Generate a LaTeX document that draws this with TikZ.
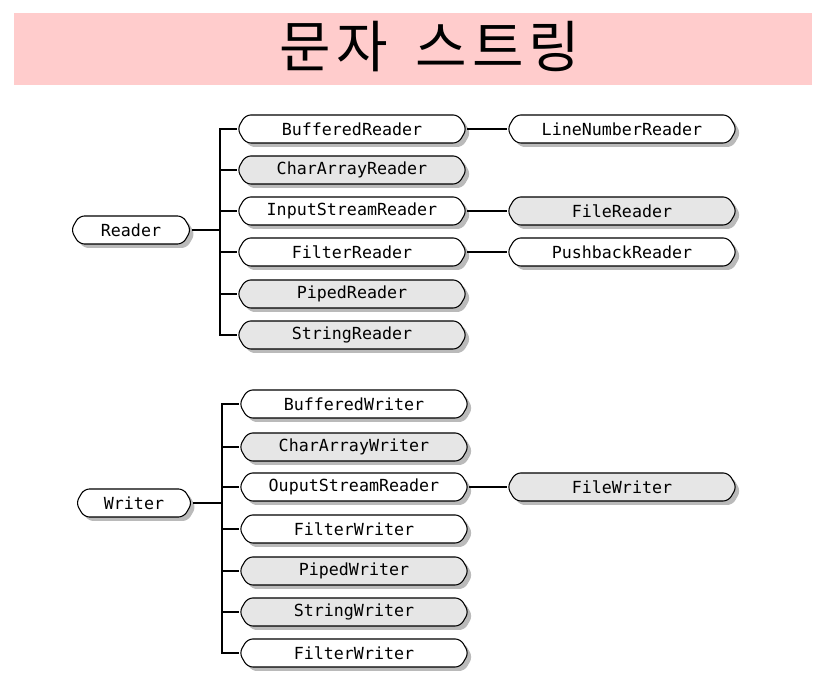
\documentclass[tikz,border=0pt]{standalone}
\usepackage{fontspec}
\setmonofont{DejaVu Sans Mono}
\newfontfamily\cjk[LetterSpace=9]{Noto Sans CJK KR}
\usetikzlibrary{shapes.symbols,shadows}

\definecolor{bannerpink}{RGB}{255,204,204}
\definecolor{boxgray}{RGB}{230,230,230}

\tikzset{
  cls/.style={shape=signal, signal to=west and east, signal pointer angle=120,
    draw, line width=0.8pt, rounded corners=4pt, fill=white,
    minimum width=172pt, minimum height=21pt, inner sep=0pt,
    font=\ttfamily\fontsize{12.5}{14}\selectfont,
    drop shadow={shadow xshift=3pt, shadow yshift=-3pt, fill=black!45, opacity=.6}},
  clsg/.style={cls, fill=boxgray},
  link/.style={line width=0.8pt},
}

\begin{document}
\begin{tikzpicture}[x=0.75pt, y=-0.75pt]
  \useasboundingbox (0,0) rectangle (826,698);
  % title
  \fill[bannerpink] (14,13) rectangle (812,85);
  \node[font=\cjk\fontsize{42}{46}\selectfont] (title) at (430,47) {문자\hspace{8pt} 스트링};

  % readers
  \node[cls, minimum width=90pt] (reader) at (131,230) {Reader};
  \node[cls]  (bufr)   at (352,129) {BufferedReader};
  \node[clsg] (chararr) at (352,170) {CharArrayReader};
  \node[cls]  (isr)    at (352,211) {InputStreamReader};
  \node[cls]  (filtr)  at (352,252) {FilterReader};
  \node[clsg] (pipedr) at (352,294) {PipedReader};
  \node[clsg] (strr)   at (352,335) {StringReader};
  \node[cls]  (lnr)    at (622,129) {LineNumberReader};
  \node[clsg] (filer)  at (622,211) {FileReader};
  \node[cls]  (pbr)    at (622,252) {PushbackReader};
  \coordinate (rtrunk) at (220,230);

  \draw[link] (reader.east) -- (rtrunk);
  \draw[link] (bufr.west) -| (rtrunk);
  \draw[link] (chararr.west) -| (rtrunk);
  \draw[link] (isr.west) -| (rtrunk);
  \draw[link] (filtr.west) -| (rtrunk);
  \draw[link] (pipedr.west) -| (rtrunk);
  \draw[link] (strr.west) -| (rtrunk);
  \draw[link] (bufr.east) -- (lnr.west);
  \draw[link] (isr.east) -- (filer.west);
  \draw[link] (filtr.east) -- (pbr.west);

  % writers
  \node[cls, minimum width=87pt] (writer) at (134,503) {Writer};
  \node[cls]  (bufw)   at (354,404) {BufferedWriter};
  \node[clsg] (charaw) at (354,447) {CharArrayWriter};
  \node[cls]  (osw)    at (354,487) {OuputStreamReader};
  \node[cls]  (filtw)  at (354,529) {FilterWriter};
  \node[clsg] (pipedw) at (354,571) {PipedWriter};
  \node[clsg] (strw)   at (354,612) {StringWriter};
  \node[cls]  (filtw2) at (354,653) {FilterWriter};
  \node[clsg] (filew)  at (622,487) {FileWriter};
  \coordinate (wtrunk) at (222,503);

  \draw[link] (writer.east) -- (wtrunk);
  \draw[link] (bufw.west) -| (wtrunk);
  \draw[link] (charaw.west) -| (wtrunk);
  \draw[link] (osw.west) -| (wtrunk);
  \draw[link] (filtw.west) -| (wtrunk);
  \draw[link] (pipedw.west) -| (wtrunk);
  \draw[link] (strw.west) -| (wtrunk);
  \draw[link] (filtw2.west) -| (wtrunk);
  \draw[link] (osw.east) -- (filew.west);
\end{tikzpicture}
\end{document}
